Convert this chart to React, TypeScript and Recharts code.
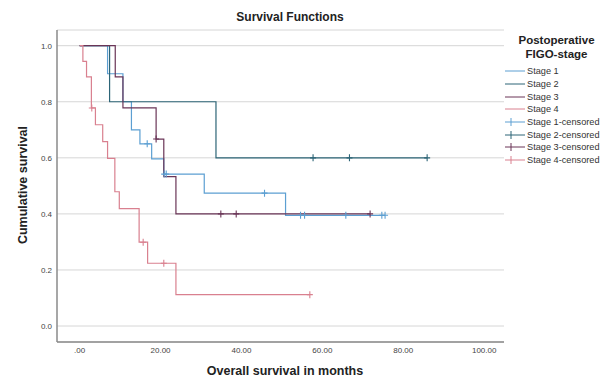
import { ComposedChart, Line, Scatter, XAxis, YAxis, CartesianGrid } from "recharts";

const FONT = "Arial, 'Liberation Sans', Helvetica, sans-serif";

const xTicks = [0, 20, 40, 60, 80, 100];
const yTicks = [0, 0.2, 0.4, 0.6, 0.8, 1.0];

// Kaplan-Meier steps (months / cumulative survival)
const stage1Times = [0, 6.9, 10.7, 12.8, 14.9, 17.8, 20.8, 30.8, 50.9];
const stage1Surv = [1, 0.9, 0.8, 0.7, 0.65, 0.596, 0.542, 0.474, 0.395];
const stage1End = 75.5;
const stage1Censored = [16.7, 20.9, 21.4, 45.7, 54.6, 55.6, 65.8, 74.7, 75.5];

const stage2Times = [0, 7.4, 33.7];
const stage2Surv = [1, 0.8, 0.6];
const stage2End = 85.9;
const stage2Censored = [57.7, 66.7, 85.9];

const stage3Times = [0, 8.8, 10.7, 18.9, 20.8, 23.8];
const stage3Surv = [1, 0.889, 0.778, 0.667, 0.533, 0.4];
const stage3End = 71.8;
const stage3Censored = [18.9, 34.9, 38.7, 71.8];

const stage4Times = [0, 0.8, 1.7, 2.9, 3.9, 5.7, 6.9, 8.7, 9.8, 14.7, 16.8, 23.8];
const stage4Surv = [1, 0.944, 0.889, 0.778, 0.718, 0.658, 0.598, 0.479, 0.419, 0.299, 0.224, 0.112];
const stage4End = 56.9;
const stage4Censored = [3.0, 15.7, 20.8, 56.9];

const stageNames = ["Stage 1", "Stage 2", "Stage 3", "Stage 4"];
const stageColors = ["#5c9fd2", "#2d6577", "#6a3557", "#d9808f"];

const stepData = (times: number[], surv: number[], end: number) => [
  ...times.map((t, i) => ({ t, s: surv[i] })),
  { t: end, s: surv[surv.length - 1] },
];

const censorData = (times: number[], surv: number[], cens: number[]) =>
  cens.map((t) => {
    let idx = 0;
    times.forEach((tt, i) => { if (tt <= t) idx = i; });
    return { t, s: surv[idx] };
  });

const series = [
  { line: stepData(stage1Times, stage1Surv, stage1End), cens: censorData(stage1Times, stage1Surv, stage1Censored) },
  { line: stepData(stage2Times, stage2Surv, stage2End), cens: censorData(stage2Times, stage2Surv, stage2Censored) },
  { line: stepData(stage3Times, stage3Surv, stage3End), cens: censorData(stage3Times, stage3Surv, stage3Censored) },
  { line: stepData(stage4Times, stage4Surv, stage4End), cens: censorData(stage4Times, stage4Surv, stage4Censored) },
];

const fmtX = (v: number) => (v === 0 ? ".00" : v.toFixed(2));

const CensorMark = (color: string) => (props: any) => {
  const { cx, cy } = props;
  if (cx == null || cy == null) return null;
  return (
    <path d={`M${cx - 3},${cy}H${cx + 3}M${cx},${cy - 3.5}V${cy + 3.5}`} stroke={color} strokeWidth={1.1} fill="none" />
  );
};

const LegendBox = () => (
  <div style={{ position: "absolute", left: 500, top: 34, width: 113, fontFamily: FONT, color: "#222" }}>
    <div style={{ textAlign: "center", fontWeight: "bold", fontSize: 11.5, lineHeight: "13.5px" }}>
      <div>Postoperative</div>
      <div>FIGO-stage</div>
    </div>
    <div style={{ marginTop: 4 }}>
      {[false, true].map((censored) =>
        stageNames.map((name, i) => (
          <div key={name + censored} style={{ display: "flex", alignItems: "center", height: 12.7 }}>
            <svg width={21} height={10} style={{ marginLeft: 5 }}>
              <line x1={0} y1={5} x2={20} y2={5} stroke={stageColors[i]} strokeWidth={1} />
              {censored && <line x1={6} y1={1} x2={6} y2={9} stroke={stageColors[i]} strokeWidth={1} />}
            </svg>
            <span style={{ fontSize: 9.2, color: "#333", marginLeft: 1, whiteSpace: "nowrap" }}>
              {name}{censored ? "-censored" : ""}
            </span>
          </div>
        ))
      )}
    </div>
  </div>
);

export default function App() {
  return (
    <div style={{ position: "absolute", left: 0, top: 0, width: 608, height: 380, background: "#fff", fontFamily: FONT }}>
      <div style={{ position: "absolute", left: 0, width: 580, top: 10, textAlign: "center", fontWeight: "bold", fontSize: 12, color: "#222" }}>
        Survival Functions
      </div>
      <ComposedChart width={608} height={380} margin={{ top: 30, right: 104, bottom: 8, left: 17 }}>
        <CartesianGrid vertical={false} stroke="#d6d6d6" strokeWidth={1} />
        <XAxis dataKey="t" type="number" domain={[-5.6, 104.9]} ticks={xTicks} tickFormatter={fmtX}
          allowDataOverflow height={30} tickSize={0} tickMargin={5} tickLine={false}
          axisLine={{ stroke: "#8a8a8a", strokeWidth: 1.5 }}
          tick={{ fontSize: 8, fill: "#444", fontFamily: FONT }} />
        <YAxis dataKey="s" type="number" domain={[-0.057, 1.056]} ticks={yTicks} tickFormatter={(v: number) => v.toFixed(1)}
          allowDataOverflow width={40} tickSize={0} tickMargin={5} tickLine={false}
          axisLine={{ stroke: "#8a8a8a", strokeWidth: 1.5 }}
          tick={{ fontSize: 8, fill: "#444", fontFamily: FONT }} />
        {series.map((s, i) => (
          <Line key={"l" + i} data={s.line} dataKey="s" type="stepAfter" stroke={stageColors[i]} strokeWidth={1.2}
            dot={false} activeDot={false} isAnimationActive={false} />
        ))}
        {series.map((s, i) => (
          <Scatter key={"c" + i} data={s.cens} dataKey="s" shape={CensorMark(stageColors[i])} isAnimationActive={false} />
        ))}
      </ComposedChart>
      <div style={{ position: "absolute", left: 22.7, top: 185, transform: "translate(-50%, -50%) rotate(-90deg)", whiteSpace: "nowrap", fontWeight: "bold", fontSize: 12.5, color: "#222" }}>
        Cumulative survival
      </div>
      <div style={{ position: "absolute", left: 0, width: 570, top: 364, textAlign: "center", fontWeight: "bold", fontSize: 12.5, color: "#222" }}>
        Overall survival in months
      </div>
      <LegendBox />
    </div>
  );
}
